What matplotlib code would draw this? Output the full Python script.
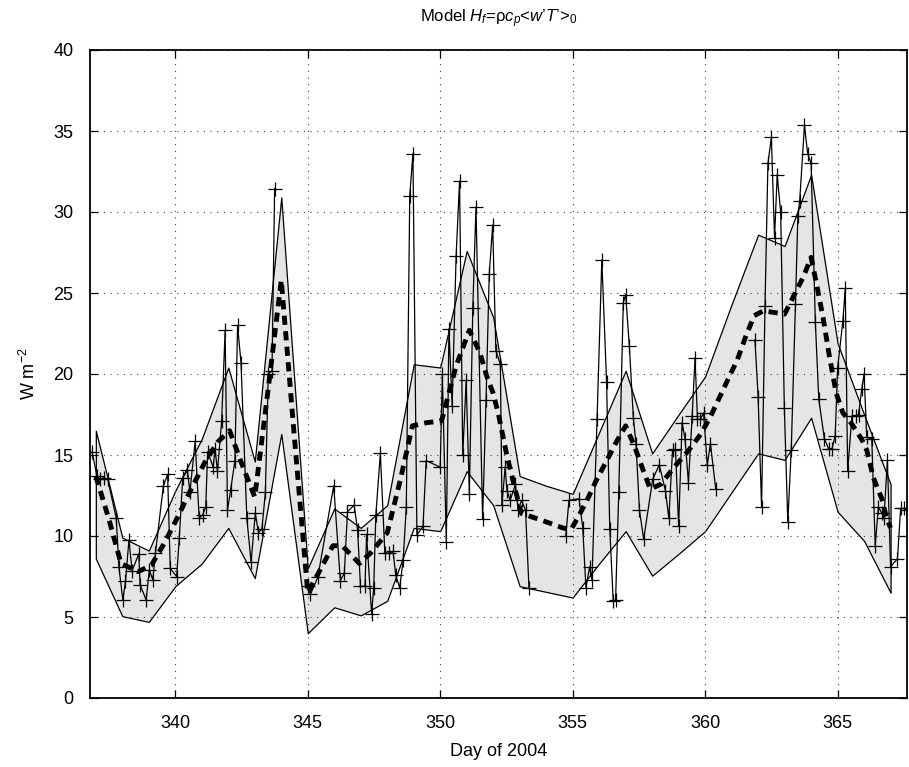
import numpy as np
import matplotlib
matplotlib.use("Agg")
import matplotlib.pyplot as plt

plt.rcParams['font.family'] = ['Liberation Sans', 'DejaVu Sans']
plt.rcParams['mathtext.fontset'] = 'custom'
plt.rcParams['mathtext.rm'] = 'Liberation Sans'
plt.rcParams['mathtext.it'] = 'Liberation Sans:italic'

nan = np.nan

# hourly-ish flux estimates (NaN = gap in the record)
raw_day = [
    336.86, 337.04, 337.16, 337.30, 337.45, 337.77, 337.87, 338.02, 338.12, 338.25,
    338.37, 338.62, 338.67, 338.90, 339.02, 339.15, 339.25, 339.55, 339.71, 339.81,
    340.05, 340.15, 340.28, 340.46, 340.55, 340.75, 340.90, 341.03, 341.15, 341.22,
    341.43, 341.50, 341.59, 341.75, 341.88, 341.97, 342.09, 342.25, 342.35, 342.48,
    342.70, 342.86, 343.02, 343.14, 343.27, 343.40, 343.51, 343.65, 343.75, 344.40,
    345.00, 345.10, 345.38, 345.98, 346.23, 346.38, 346.50, 346.75, 346.88, 346.99,
    347.16, 347.22, 347.41, 347.49, 347.57, 347.74, 347.91, 348.07, 348.22, 348.32,
    348.47, 348.60, 348.72, 348.85, 348.97, 349.12, 349.35, 349.47, 350.00, 350.08,
    350.23, 350.33, 350.45, 350.60, 350.73, 350.85, 350.98, 351.10, 351.23, 351.35,
    351.60, 351.73, 351.85, 351.98, 352.10, 352.27, 352.33, 352.45, 352.52, 352.64,
    352.84, 352.94, 353.07, 353.22, 353.35, 354.00,
    354.74, 354.86, 355.24, 355.38, 355.50, 355.64, 355.73, 355.92, 356.10, 356.28,
    356.40, 356.53, 356.62, 356.74, 356.91, 357.00, 357.14, 357.29, 357.39, 357.52,
    357.68, 358.02, 358.27, 358.50, 358.63, 358.77, 358.88, 359.00, 359.13, 359.24,
    359.37, 359.51, 359.62, 359.71, 359.82, 359.94, 360.08, 360.20, 360.40, 361.00,
    361.88, 362.00, 362.13, 362.26, 362.37, 362.50, 362.62, 362.72, 362.85, 362.99,
    363.12, 363.25, 363.41, 363.50, 363.57, 363.75, 363.87, 364.00, 364.16, 364.29,
    364.50, 364.66, 364.79, 364.91, 365.00, 365.20, 365.29, 365.38, 365.54, 365.70,
    365.79, 365.91, 366.00, 366.10, 366.29, 366.42, 366.54, 366.67, 366.75, 366.88,
    367.00, 367.26, 367.38, 367.51, 367.64,
]
raw_flux = [
    15.2, 13.7, 13.5, 13.6, 13.5, 11.1, 8.1, 6.05, 7.2, 9.75,
    7.85, 8.9, 7.0, 6.05, 7.9, 7.3, 8.95, 13.1, 13.8, 8.0,
    7.5, 9.85, 13.6, 14.05, 12.7, 15.85, 11.1, 11.3, 11.8, 15.2,
    14.25, 15.4, 14.0, 17.1, 22.7, 11.6, 12.85, 14.65, 23.0, 20.7,
    11.1, 8.4, 11.4, 10.2, 10.45, 12.7, 20.0, 20.2, 31.45, nan,
    6.9, 6.4, 7.45, 13.1, 7.25, 7.7, 11.5, 11.9, 10.4, 6.9,
    6.9, 10.1, 5.2, 6.8, 11.3, 15.1, 8.95, 8.95, 9.05, 7.6,
    6.8, 8.5, 11.8, 31.0, 33.6, 10.05, 10.6, 14.65, 14.25, 20.0,
    9.6, 22.8, 18.05, 27.3, 31.9, 15.0, 19.6, 12.6, 24.1, 30.3,
    11.05, 18.4, 26.15, 29.2, 21.45, 20.6, 11.9, 14.25, 12.8, 12.2,
    13.2, 11.6, 12.2, 11.6, 6.8, nan,
    10.0, 12.2, 12.3, 10.5, 6.8, 8.1, 7.3, 17.2, 27.05, 19.5,
    10.45, 6.0, 6.05, 12.7, 24.4, 24.9, 21.7, 17.3, 15.7, 11.6,
    9.8, 13.5, 14.4, 12.8, 11.1, 15.3, 15.35, 10.6, 17.0, 16.0,
    13.3, 17.4, 21.0, 17.2, 17.2, 17.6, 14.4, 15.7, 12.9, nan,
    22.1, 18.6, 11.8, 24.2, 33.0, 34.6, 28.4, 32.3, 30.0, 17.9,
    10.85, 15.3, 24.3, 29.75, 30.7, 35.35, 33.6, 33.0, 23.2, 18.45,
    16.0, 15.4, 15.4, 16.2, 20.35, 23.3, 25.3, 14.0, 17.4, 17.4,
    17.5, 19.05, 20.0, 16.1, 16.0, 9.4, 11.8, 11.4, 11.1, 14.7,
    8.1, 8.6, 11.7, 11.7, 11.6,
]

# smoothed flux (thick dashed curve)
mean_day = [
    337.0, 337.5, 337.95, 338.6, 339.1, 339.6, 340.1, 340.6, 341.1, 341.6,
    342.05, 342.5, 343.0, 343.5, 344.0, 344.5, 345.0, 345.4, 345.95, 346.3,
    346.95, 347.4, 348.0, 348.5, 348.95, 349.5, 350.05, 350.6, 351.1, 351.5,
    351.75, 352.0, 352.2, 352.5, 352.75, 353.06, 353.87, 354.62, 354.94, 355.25,
    355.57, 355.88, 356.3, 356.68, 357.0, 357.32, 357.64, 357.93, 358.33, 358.83,
    359.36, 359.84, 360.21, 360.57, 360.9, 361.22, 361.53, 361.85, 362.2, 362.6,
    363.0, 363.46, 363.71, 364.0, 364.2, 364.45, 364.7, 364.95, 365.2, 365.5,
    365.9, 366.1, 366.35, 366.67, 366.85, 367.0,
]
mean_flux = [
    13.7, 11.0, 8.3, 7.8, 8.2, 9.6, 11.2, 12.9, 14.5, 15.8,
    16.5, 14.5, 12.4, 19.0, 25.8, 16.0, 6.5, 7.7, 9.4, 9.4,
    8.3, 9.0, 10.2, 13.5, 16.8, 17.0, 17.1, 20.5, 22.7, 21.3,
    19.9, 18.8, 17.5, 15.1, 13.4, 11.4, 10.95, 10.5, 10.4, 11.3,
    12.3, 13.4, 14.7, 15.9, 16.8, 15.6, 14.15, 12.9, 13.2, 14.25,
    15.25, 16.3, 17.4, 18.65, 19.8, 20.9, 22.3, 23.6, 23.9, 23.8,
    23.7, 25.2, 26.0, 27.2, 25.6, 23.5, 21.0, 18.8, 17.6, 17.0,
    16.0, 15.3, 13.6, 12.3, 11.1, 10.5,
]

# daily envelope (shaded band)
band_day = list(range(337, 368))
band_upper = [
    16.5, 9.9, 9.1, 12.8, 16.0, 20.4, 14.6, 30.9, 8.0, 11.7,
    10.5, 11.9, 20.6, 20.4, 27.6, 23.5, 13.7, 13.1, 12.6, 16.4,
    20.2, 15.1, 17.5, 19.85, 24.3, 28.6, 27.9, 32.3, 21.9, 17.5,
    13.2,
]
band_lower = [
    8.6, 5.05, 4.7, 6.9, 8.3, 10.5, 7.4, 16.3, 4.0, 5.6,
    5.1, 6.0, 10.5, 10.3, 14.0, 11.9, 6.9, 6.55, 6.2, 8.3,
    10.3, 7.55, 8.9, 10.3, 12.7, 15.1, 14.7, 17.3, 11.5, 9.7,
    6.5,
]

fig = plt.figure(figsize=(9.09, 7.67), dpi=100)
ax = fig.add_axes([90 / 909, 69 / 767, 817 / 909, 648 / 767])

ax.fill_between(band_day, band_lower, band_upper, facecolor='#e4e5e7',
                edgecolor='black', linewidth=0.9, zorder=1)
ax.plot(raw_day, raw_flux, color='black', linewidth=0.9, marker='+',
        markersize=10, markeredgewidth=0.9, zorder=3)
ax.plot(mean_day, mean_flux, color='black', linewidth=3.5,
        linestyle=(0, (1.9, 1.3)), zorder=4)

ax.set_xlim(336.78, 367.62)
ax.set_ylim(0, 40)
ax.set_xticks([340, 345, 350, 355, 360, 365])
ax.set_yticks(range(0, 41, 5))
ax.set_axisbelow(False)
ax.grid(True, color='0.25', linestyle=(0, (1, 5)), linewidth=0.8)
ax.tick_params(direction='in', length=6, width=0.9, top=True, right=True,
               labelsize=13, pad=12)
for s in ax.spines.values():
    s.set_linewidth(1.3)

ax.set_xlabel('Day of 2004', fontsize=13, labelpad=8)
ax.set_ylabel('W m$^{-2}$', fontsize=13, labelpad=10)
ax.set_title(r"Model $\mathit{H}_\mathit{f}$=ρ$\mathit{c}_\mathit{p}$<$\mathit{w’T’}$>$_0$",
             fontsize=12, pad=20)

fig.savefig('out.png', dpi=100)
